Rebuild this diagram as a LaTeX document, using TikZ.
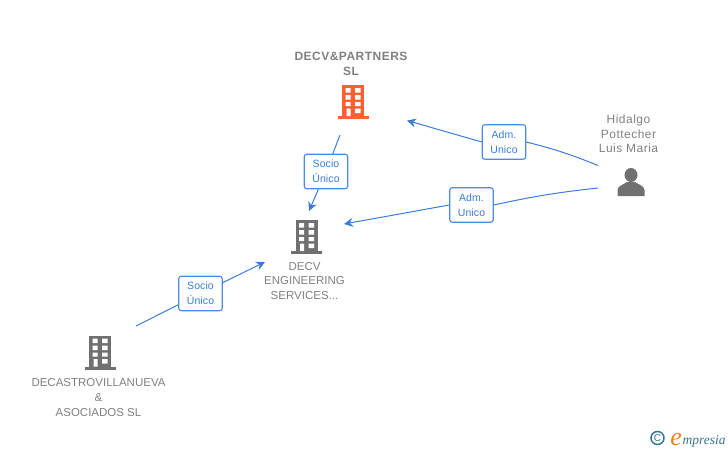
\documentclass[tikz,border=0pt]{standalone}
\usepackage{fontspec}
\setmainfont{Liberation Sans}
\newfontfamily\logofont{Liberation Serif}
\newfontfamily\personfont[LetterSpace=4]{Liberation Sans}
\newfontfamily\titlefont[LetterSpace=4]{Liberation Sans}
\newfontfamily\boxfont[LetterSpace=1]{Liberation Sans}
\usepackage{tikz}
\usetikzlibrary{positioning, arrows.meta}
\definecolor{linkblue}{RGB}{58, 124, 220}
\definecolor{boxborder}{RGB}{74, 138, 226}
\definecolor{textgray}{RGB}{128, 128, 128}
\definecolor{icongray}{RGB}{112, 112, 112}
\definecolor{iconorange}{RGB}{255, 96, 48}
\definecolor{logoteal}{RGB}{52, 118, 146}
\definecolor{logoorange}{RGB}{238, 130, 30}

\begin{document}
\begin{tikzpicture}[
    x=1pt, y=-1pt,
    namelabel/.style={align=center, text=textgray, font=\fontsize{11.5}{14.7}\selectfont, inner sep=0pt},
    linkbox/.style={draw=boxborder, rounded corners=2.5pt, fill=white, align=center, line width=1.1pt, minimum width=43.5pt, minimum height=34.5pt, inner sep=0pt, text=linkblue, font=\fontsize{10.5}{15}\boxfont},
    link/.style={linkblue, line width=1pt},
    arrow/.style={link, -{Stealth[length=9pt, width=9pt, inset=3pt]}},
    building/.pic={
        \fill[pic actions] (-11,-17) rectangle (11,15);
        \fill[pic actions] (-15.5,14) rectangle (15.5,17);
        \fill[white] (-7.5,-14) rectangle (-2.5,-9.5) (2,-14) rectangle (7.5,-9.5);
        \fill[white] (-7.5,-7) rectangle (-2.5,-2.5) (2,-7) rectangle (7.5,-2.5);
        \fill[white] (-7.5,0) rectangle (-2.5,4) (2,0) rectangle (7.5,4);
        \fill[white] (-6.5,6.5) rectangle (-2.5,14) (2,6.5) rectangle (7.5,11);
    }
]
    \useasboundingbox (0,0) rectangle (728,450);

    % Iconos
    \pic[fill=iconorange] at (353,102) {building};
    \pic[fill=icongray] at (306.5,237) {building};
    \pic[fill=icongray] at (100,352.5) {building};
    \fill[icongray] (631,175) ellipse (6.5 and 7);
    \fill[icongray] (617.5,196) -- (617.5,190) .. controls (618,185.5) and (623,185) .. (627,182) -- (635,182) .. controls (639,185) and (644,185.5) .. (644.5,190) -- (644.5,196) -- cycle;

    % Nodos
    \node (partners) [namelabel, font=\fontsize{12}{14.7}\titlefont\bfseries] at (351,64) {DECV\&PARTNERS\\SL};
    \node (engineering) [namelabel] at (304.5,281) {DECV\\ENGINEERING\\SERVICES...};
    \node (asociados) [namelabel] at (98.5,397.5) {DECASTROVILLANUEVA\\\&\\ASOCIADOS SL};
    \node (hidalgo) [namelabel, font=\fontsize{12}{14.7}\personfont] at (628.5,134) {Hidalgo\\Pottecher\\Luis Maria};

    \node (admuno) [linkbox] at (504,142) {Adm.\\Unico};
    \node (admdos) [linkbox] at (471.5,205) {Adm.\\Unico};
    \node (sociouno) [linkbox] at (326,171.5) {Socio\\Único};
    \node (sociodos) [linkbox] at (200.5,293.5) {Socio\\Único};

    \coordinate (hidalgotop) at (598,165.5);
    \coordinate (hidalgolow) at (598,188);
    \coordinate (partnersout) at (340,135);
    \coordinate (asociadosout) at (136,326);
    \coordinate (partnersin) at (407,120.5);
    \coordinate (decvright) at (344,224);
    \coordinate (decvtop) at (309,211);
    \coordinate (decvleft) at (265,262);

    % Flechas
    \draw [link] (hidalgotop) to[bend right=4] (admuno.east);
    \draw [arrow] (admuno.west) -- (partnersin);
    \draw [link] (hidalgolow) to[bend right=3] (admdos.east);
    \draw [arrow] (admdos.west) -- (decvright);
    \draw [link] (partnersout) -- (sociouno);
    \draw [arrow] (sociouno) -- (decvtop);
    \draw [link] (asociadosout) -- (sociodos);
    \draw [arrow] (sociodos) -- (decvleft);

    % Logo
    \node (copyright) [draw=logoteal, circle, line width=1.5pt, minimum size=13pt, inner sep=0pt, text=logoteal, font=\fontsize{10}{10}\selectfont] at (657.5,438) {C};
    \node (emark) [inner sep=0pt, anchor=base east, text=logoorange, font=\fontsize{26}{26}\logofont\itshape] at (682,445) {e};
    \node (empresia) [inner sep=0pt, anchor=base west, text=logoteal, font=\fontsize{13.5}{13.5}\logofont\itshape] at (682.5,444) {mpresia};
\end{tikzpicture}
\end{document}
